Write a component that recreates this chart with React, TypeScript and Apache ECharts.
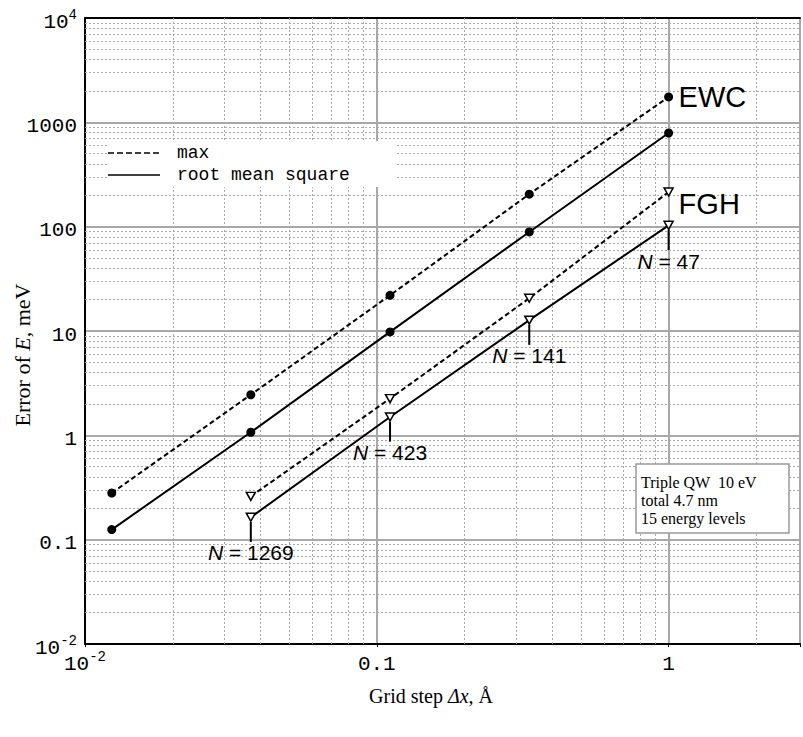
import React, { useEffect, useRef } from 'react';
import * as echarts from 'echarts';

// ---- data ----
const xEwc = [0.01235, 0.037, 0.111, 0.333, 1];
const ewcMax = [0.28, 2.45, 22, 205, 1750];
const ewcRms = [0.125, 1.07, 9.8, 89, 790];
const xFgh = [0.037, 0.111, 0.333, 1];
const fghMax = [0.26, 2.25, 20.6, 215];
const fghRms = [0.164, 1.5, 12.7, 103];
const fghN = ['1269', '423', '141', '47'];

// tick labels by decade exponent
const yExp = [-2, -1, 0, 1, 2, 3, 4];
const yLab = ['10^-2', '0.1', '1', '10', '100', '1000', '10^4'];
const xExp = [-2, -1, 0];
const xLab = ['10^-2', '0.1', '1'];

// axis extent (right edge of the picture cuts the x axis)
const X_MIN = 0.01;
const X_MAX = 2.82;
const Y_MIN = 0.01;
const Y_MAX = 10000;

// minor grid positions (2..9 within each decade)
const mult = [2, 3, 4, 5, 6, 7, 8, 9];
const xDecades = [0.01, 0.1, 1];
const yDecades = [0.01, 0.1, 1, 10, 100, 1000];
const minorX: number[] = [];
xDecades.forEach((d) => mult.forEach((m) => { if (d * m < X_MAX) minorX.push(d * m); }));
const minorY: number[] = [];
yDecades.forEach((d) => mult.forEach((m) => minorY.push(d * m)));

const MONO = 'Liberation Mono';
const SERIF = 'Liberation Serif';
const SANS = 'Liberation Sans';

function toRich(label: string, base: string, sup: string) {
  if (label.indexOf('^') >= 0) {
    const [a, b] = label.split('^');
    return `{${base}|${a}}{${sup}|${b}}`;
  }
  return `{${base}|${label}}`;
}

function lookup(value: number, exps: number[], labs: string[]) {
  const l = Math.log10(value);
  const n = Math.round(l);
  if (Math.abs(l - n) > 1e-6) return null;
  const i = exps.indexOf(n);
  if (i < 0) return null;
  return { n, label: labs[i] };
}

const option: any = {
  animation: false,
  backgroundColor: '#fff',
  grid: { left: 85, top: 18, right: 0, bottom: 93, show: false },
  xAxis: [
    {
      type: 'log',
      logBase: 10,
      min: X_MIN,
      max: X_MAX,
      axisLine: { show: true, lineStyle: { color: '#000', width: 2 } },
      axisTick: { show: true, length: 3, lineStyle: { color: '#000' } },
      splitLine: { show: true, lineStyle: { color: '#a8a8a8', width: 2 } },
      axisLabel: {
        margin: 6,
        color: '#000',
        formatter: (v: number) => {
          const r = lookup(v, xExp, xLab);
          return r ? toRich(r.label, 'b', 's') : '';
        },
        rich: {
          b: { fontFamily: MONO, fontSize: 21, lineHeight: 21, padding: [4, 0, 0, 0], color: '#000', verticalAlign: 'top' },
          s: { fontFamily: MONO, fontSize: 14, lineHeight: 14, color: '#000', verticalAlign: 'top' },
        },
      },
    },
    {
      type: 'log',
      logBase: 10,
      min: X_MIN,
      max: X_MAX,
      position: 'top',
      axisLine: { show: true, lineStyle: { color: '#000', width: 2 } },
      axisTick: { show: false },
      axisLabel: { show: false },
      splitLine: { show: false },
    },
  ],
  yAxis: {
    type: 'log',
    logBase: 10,
    min: Y_MIN,
    max: Y_MAX,
    axisLine: { show: true, lineStyle: { color: '#000', width: 2 } },
    axisTick: { show: false },
    splitLine: { show: true, lineStyle: { color: '#a8a8a8', width: 2 } },
    axisLabel: {
      margin: 8,
      color: '#000',
      formatter: (v: number) => {
        const r = lookup(v, yExp, yLab);
        if (!r) return '';
        if (r.n === 4) return toRich(r.label, 'tb', 'ts');
        return toRich(r.label, 'b', 's');
      },
      rich: {
        b: { fontFamily: MONO, fontSize: 21, lineHeight: 21, padding: [4, 0, 15, 0], color: '#000', verticalAlign: 'top' },
        s: { fontFamily: MONO, fontSize: 14, lineHeight: 14, color: '#000', verticalAlign: 'top' },
        tb: { fontFamily: MONO, fontSize: 21, lineHeight: 21, padding: [4, 0, 0, 0], color: '#000', verticalAlign: 'top' },
        ts: { fontFamily: MONO, fontSize: 14, lineHeight: 14, color: '#000', verticalAlign: 'top' },
      },
    },
  },
  series: [
    {
      name: 'minor grid',
      type: 'line',
      data: [],
      silent: true,
      z: 1,
      markLine: {
        silent: true,
        symbol: ['none', 'none'],
        label: { show: false },
        lineStyle: { type: [2, 2], color: '#a8a8a8', width: 1 },
        data: [...minorX.map((v) => ({ xAxis: v })), ...minorY.map((v) => ({ yAxis: v }))],
      },
    },
    {
      name: 'EWC max',
      type: 'line',
      data: xEwc.map((x, i) => [x, ewcMax[i]]),
      symbol: 'circle',
      symbolSize: 9,
      itemStyle: { color: '#000' },
      lineStyle: { color: '#000', width: 2, type: [5, 3] },
      z: 5,
      endLabel: { show: true, formatter: 'EWC', distance: 10, fontFamily: SANS, fontSize: 29, color: '#000' },
    },
    {
      name: 'EWC rms',
      type: 'line',
      data: xEwc.map((x, i) => [x, ewcRms[i]]),
      symbol: 'circle',
      symbolSize: 9,
      itemStyle: { color: '#000' },
      lineStyle: { color: '#000', width: 2 },
      z: 5,
    },
    {
      name: 'FGH max',
      type: 'line',
      data: xFgh.map((x, i) => [x, fghMax[i]]),
      symbol: 'path://M0,0L10,0L5,9Z',
      symbolSize: [9, 8],
      itemStyle: { color: '#fff', borderColor: '#000', borderWidth: 1.5 },
      lineStyle: { color: '#000', width: 2, type: [5, 3] },
      z: 5,
      endLabel: { show: true, formatter: 'FGH', distance: 10, offset: [0, 12], fontFamily: SANS, fontSize: 29, color: '#000' },
    },
    {
      name: 'FGH rms',
      type: 'line',
      data: xFgh.map((x, i) => ({
        value: [x, fghRms[i]],
        label: {
          show: true,
          position: 'bottom',
          distance: 0,
          formatter: `{bar|}\n{n|N}{t| = ${fghN[i]}}`,
        },
      })),
      symbol: 'path://M0,0L10,0L5,9Z',
      symbolSize: [9, 8],
      itemStyle: { color: '#fff', borderColor: '#000', borderWidth: 1.5 },
      lineStyle: { color: '#000', width: 2 },
      z: 5,
      label: {
        show: true,
        position: 'bottom',
        distance: 0,
        align: 'center',
        rich: {
          bar: { width: 2, height: 20, backgroundColor: '#000' },
          n: { fontFamily: SANS, fontStyle: 'italic', fontSize: 21, lineHeight: 22, color: '#000' },
          t: { fontFamily: SANS, fontSize: 21, lineHeight: 22, color: '#000' },
        },
      },
    },
  ],
  graphic: [
    // legend
    { type: 'rect', z: 50, shape: { x: 107, y: 141, width: 290, height: 46 }, style: { fill: '#fff' } },
    { type: 'line', z: 51, shape: { x1: 108, y1: 153, x2: 160, y2: 153 }, style: { stroke: '#000', lineWidth: 1.5, lineDash: [6, 3] } },
    { type: 'line', z: 51, shape: { x1: 108, y1: 175, x2: 160, y2: 175 }, style: { stroke: '#000', lineWidth: 1.5 } },
    { type: 'text', z: 51, x: 177, y: 153, style: { text: 'max', fontFamily: MONO, fontSize: 18, fill: '#000', verticalAlign: 'middle', textVerticalAlign: 'middle' } },
    { type: 'text', z: 51, x: 177, y: 175, style: { text: 'root mean square', fontFamily: MONO, fontSize: 18, fill: '#000', verticalAlign: 'middle', textVerticalAlign: 'middle' } },
    // info box
    { type: 'rect', z: 50, shape: { x: 636, y: 464, width: 153, height: 69 }, style: { fill: '#fff', stroke: '#999', lineWidth: 1.5 } },
    { type: 'text', z: 51, x: 641, y: 482, style: { text: 'Triple QW  10 eV', fontFamily: SERIF, fontSize: 16, fill: '#000', verticalAlign: 'middle', textVerticalAlign: 'middle' } },
    { type: 'text', z: 51, x: 641, y: 500, style: { text: 'total 4.7 nm', fontFamily: SERIF, fontSize: 16, fill: '#000', verticalAlign: 'middle', textVerticalAlign: 'middle' } },
    { type: 'text', z: 51, x: 641, y: 518, style: { text: '15 energy levels', fontFamily: SERIF, fontSize: 16, fill: '#000', verticalAlign: 'middle', textVerticalAlign: 'middle' } },
    // axis titles
    {
      type: 'text', z: 51, x: 431, y: 696,
      style: {
        text: 'Grid step {i|Δx}, Å',
        rich: { i: { fontFamily: SERIF, fontStyle: 'italic', fontSize: 20, fill: '#000', color: '#000' } },
        fontFamily: SERIF, fontSize: 20, fill: '#000',
        align: 'center', verticalAlign: 'middle', textAlign: 'center', textVerticalAlign: 'middle',
      },
    },
    {
      type: 'text', z: 51, x: 22, y: 355, rotation: Math.PI / 2,
      style: {
        text: 'Error of {i|E}, meV',
        rich: { i: { fontFamily: SERIF, fontStyle: 'italic', fontSize: 22, fill: '#000', color: '#000' } },
        fontFamily: SERIF, fontSize: 22, fill: '#000',
        align: 'center', verticalAlign: 'middle', textAlign: 'center', textVerticalAlign: 'middle',
      },
    },
  ],
};

export default function App() {
  const ref = useRef<HTMLDivElement>(null);
  useEffect(() => {
    const chart = echarts.init(ref.current as HTMLDivElement, null, { renderer: 'svg' });
    chart.setOption(option);
    return () => chart.dispose();
  }, []);
  return (
    <div
      ref={ref}
      style={{ position: 'fixed', left: 0, top: 0, width: 803, height: 737, background: '#fff', overflow: 'hidden' }}
    />
  );
}
